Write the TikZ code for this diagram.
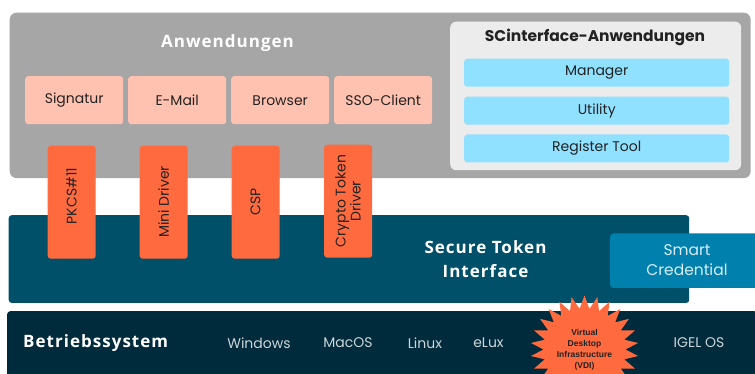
\documentclass[tikz,border=0pt]{standalone}
\usepackage{fontspec}
\setmainfont{Poppins}
\newfontfamily\headfont[LetterSpace=6]{Open Sans}
\newfontfamily\vdifont{Liberation Sans}
\usetikzlibrary{shapes.geometric}
\definecolor{graybg}{HTML}{A6A6A6}
\definecolor{panel}{HTML}{ECECEC}
\definecolor{pinkbox}{HTML}{FFC2B0}
\definecolor{orangebox}{HTML}{FF6B3F}
\definecolor{bluebox}{HTML}{8FE1FF}
\definecolor{tealbg}{HTML}{00506A}
\definecolor{smartbg}{HTML}{0080AD}
\definecolor{darkbg}{HTML}{002B3C}
\definecolor{inktext}{HTML}{222222}
\tikzset{
 x=1pt,y=-1pt,
 rbox/.style={rounded corners=3pt,inner sep=0pt,anchor=north west,font=\fontsize{14}{16}\selectfont,text=inktext,align=center},
 appbox/.style={rbox,fill=pinkbox,minimum width=98pt,minimum height=48pt},
 drvbox/.style={rbox,fill=orangebox,minimum width=48pt,minimum height=113pt},
 drvlabel/.style={rotate=90,font=\fontsize{14}{15}\selectfont,text=inktext,align=center,inner sep=0pt},
 toolbox/.style={rbox,fill=bluebox,minimum width=265pt,minimum height=28pt},
 head/.style={font=\headfont\bfseries\fontsize{17}{24}\selectfont,text=white,align=center,inner sep=0pt},
 ostext/.style={font=\fontsize{14}{16}\selectfont,text=white!80!darkbg,inner sep=0pt},
}
\begin{document}
\begin{tikzpicture}
\useasboundingbox (0,0) rectangle (755,374);
\fill[white] (0,0) rectangle (755,374);
\node[rbox,fill=graybg,rounded corners=7pt,minimum width=741pt,minimum height=165.5pt] (apps) at (9.5,12.5) {};
\node[rbox,fill=panel,rounded corners=6pt,minimum width=291pt,minimum height=148.5pt] (panelbox) at (450,21.5) {};
\node[head] (appstitle) at (227.5,43) {Anwendungen};
\node[inner sep=0pt,font=\bfseries\fontsize{15.5}{18}\selectfont,text=inktext] (sctitle) at (595,37.5) {SCinterface-Anwendungen};
\node[appbox] (sig) at (25,76) {Signatur};
\node[appbox] (mail) at (128,76) {E-Mail};
\node[appbox] (browser) at (231,76) {Browser};
\node[appbox] (sso) at (334,76) {SSO-Client};
\node[toolbox] (manager) at (464,58.5) {Manager};
\node[toolbox] (utility) at (464,96.5) {Utility};
\node[toolbox] (register) at (464,134.3) {Register Tool};
\node[rbox,fill=tealbg,minimum width=680.5pt,minimum height=87.7pt] (sti) at (8.5,215) {};
\node[head] (stitext) at (485.5,259) {Secure Token\\Interface};
\node[rbox,fill=smartbg,minimum width=150pt,minimum height=54.4pt,font=\fontsize{15.5}{20}\selectfont,text=white!85!smartbg] (smart) at (610,233.3) {};
\node[font=\fontsize{15.5}{20}\selectfont,text=white!85!smartbg,align=center,inner sep=0pt] (smarttext) at (687,260.5) {Smart\\Credential};
\node[drvbox] (pkcs) at (47.5,145.5) {};
\node[drvbox] (mini) at (139.5,145.5) {};
\node[drvbox] (csp) at (231.5,145.5) {};
\node[drvbox] (crypto) at (324,144.5) {};
\node[drvlabel] at (71.5,196) {PKCS\#11};
\node[drvlabel] at (163.5,202) {Mini Driver};
\node[drvlabel] at (255.5,202) {CSP};
\node[drvlabel] at (348,201) {Crypto Token\\Driver};
\node[rbox,fill=darkbg,minimum width=750pt,minimum height=70pt] (os) at (7,311) {};
\node[head,anchor=west,font=\headfont\bfseries\fontsize{17}{20}\selectfont] (ostitle) at (23,343) {Betriebssystem};
\node[ostext] (win) at (259,343) {Windows};
\node[ostext] (mac) at (348,343) {MacOS};
\node[ostext] (lin) at (425,343) {Linux};
\node[ostext] (elux) at (488.5,343) {eLux};
\node[ostext] (igel) at (699,343) {IGEL OS};
\node[star,star points=26,star point ratio=1.32,fill=orangebox,inner sep=0pt,minimum size=108pt] (vdi) at (584.5,349.5) {};
\node[font=\vdifont\bfseries\fontsize{8.5}{11}\selectfont,text=inktext,align=center,inner sep=0pt] (vditext) at (584.5,349.5) {Virtual\\Desktop\\Infrastructure\\(VDI)};
\end{tikzpicture}
\end{document}
